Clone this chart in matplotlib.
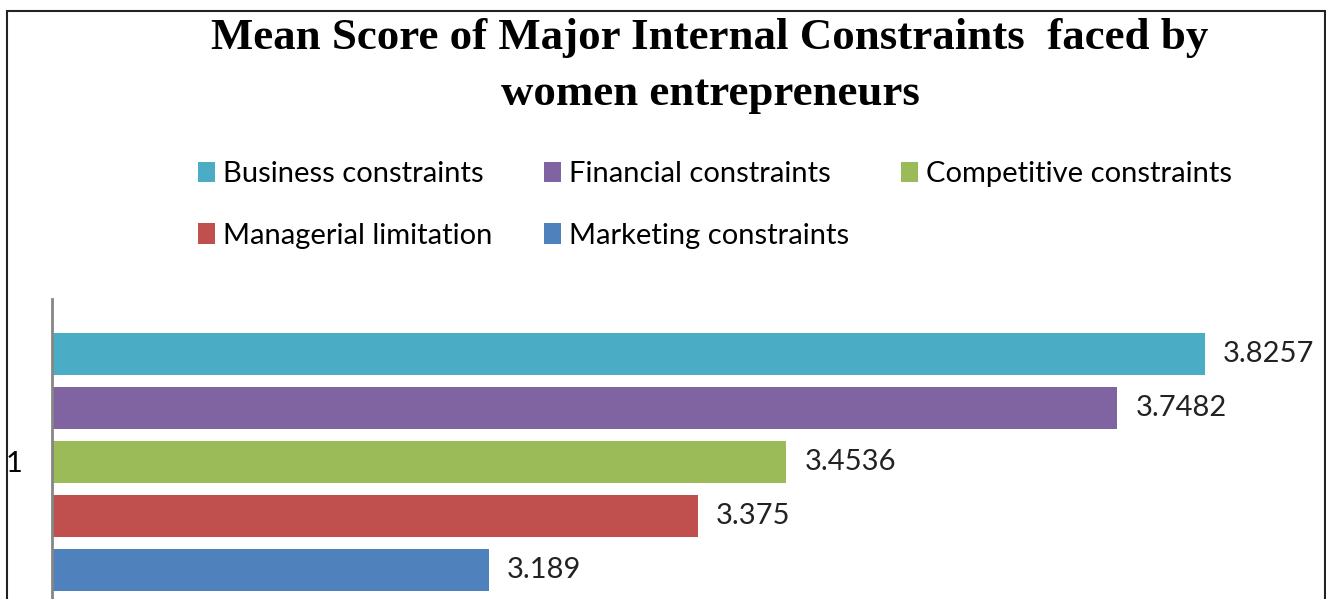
import matplotlib
matplotlib.use("Agg")
import matplotlib.pyplot as plt
from matplotlib.patches import Patch, Rectangle

categories = ["Business constraints", "Financial constraints", "Competitive constraints",
              "Managerial limitation", "Marketing constraints"]
values = [3.8257, 3.7482, 3.4536, 3.375, 3.189]
labels = ["3.8257", "3.7482", "3.4536", "3.375", "3.189"]
colors = ["#4BACC6", "#8064A2", "#9BBB59", "#C0504D", "#4F81BD"]
category_label = "1"
title_lines = ["Mean Score of Major Internal Constraints  faced by", "women entrepreneurs"]

W, H = 1326, 599
fig = plt.figure(figsize=(W / 100, H / 100), dpi=100)
fig.patch.set_facecolor("white")

# axes placement (pixels): x 52..1288, y 299..625 (cropped at bottom)
ax_l, ax_r, ax_t, ax_b = 52, 1288, 299, 625
ax = fig.add_axes([ax_l / W, (H - ax_b) / H, (ax_r - ax_l) / W, (ax_b - ax_t) / H])

pitch = 53.9
span = (ax_b - ax_t) / pitch
ypos = list(range(len(values)))
center = 2
ax.set_ylim(center + span / 2, center - span / 2)
ax.set_xlim(2.8, 3.9)

ax.barh(ypos, [v - 2.8 for v in values], left=2.8, height=0.78, color=colors)
for y, v, lab in zip(ypos, values, labels):
    ax.annotate(lab, (v, y), xytext=(13, 0), textcoords="offset points",
                va="center", ha="left", fontsize=21, family="Lato", color="#222222")

for s in ["top", "right", "bottom"]:
    ax.spines[s].set_visible(False)
ax.spines["left"].set_color("#868686")
ax.spines["left"].set_linewidth(2)
ax.set_xticks([])
ax.set_yticks([center])
ax.set_yticklabels([category_label], fontsize=21, family="Lato")
ax.tick_params(axis="y", length=0, pad=21)

fig.text(710 / W, 1 - 49 / H, title_lines[0], ha="center", va="baseline", fontsize=32.3,
         fontweight="bold", family="Liberation Serif")
fig.text(710 / W, 1 - 105 / H, title_lines[1], ha="center", va="baseline", fontsize=32.3,
         fontweight="bold", family="Liberation Serif")

order = [0, 3, 1, 4, 2]
handles = [Patch(facecolor=colors[i], edgecolor="none") for i in order]
fig.legend(handles, [categories[i] for i in order], ncol=3, loc="center",
           bbox_to_anchor=(715 / W, 1 - 205 / H), frameon=False,
           prop={"family": "Lato", "size": 21}, handlelength=0.58, handleheight=0.7,
           handletextpad=0.3, columnspacing=1.75, labelspacing=1.22)

fig.add_artist(Rectangle((7 / W, -0.1), (W - 8) / W, 1.1 - 11 / H, transform=fig.transFigure,
                         fill=False, edgecolor="#222222", linewidth=1.5))

fig.savefig("out.png", dpi=100)
